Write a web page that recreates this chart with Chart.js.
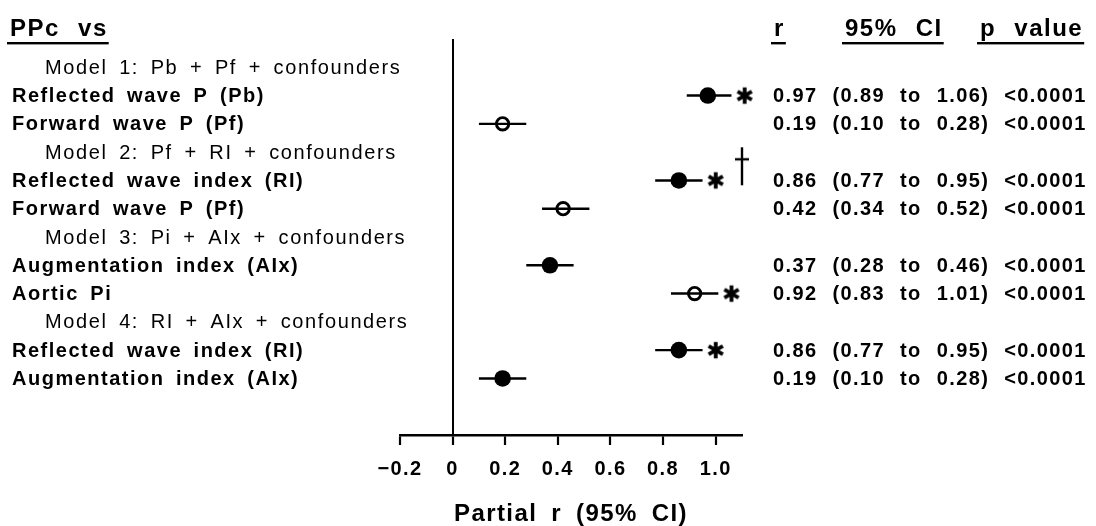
<!DOCTYPE html>
<html>
<head>
<meta charset="utf-8">
<script src="https://cdn.jsdelivr.net/npm/chart.js@4.4.1/dist/chart.umd.min.js"></script>
<style>
  html, body { margin: 0; padding: 0; background: #fff; }
  canvas { display: block; }
</style>
</head>
<body>
<canvas id="forest" width="1096" height="526"></canvas>
<script>
// ---- data ----
const headingText = 'PPc vs';
const columnHeaders = ['r', '95% CI', 'p value'];
const modelTitles = [
  'Model 1: Pb + Pf + confounders',
  'Model 2: Pf + RI + confounders',
  'Model 3: Pi + AIx + confounders',
  'Model 4: RI + AIx + confounders'
];
const modelRows = [0, 3, 6, 9];
const rowLabels = [
  'Reflected wave P (Pb)',
  'Forward wave P (Pf)',
  'Reflected wave index (RI)',
  'Forward wave P (Pf)',
  'Augmentation index (AIx)',
  'Aortic Pi',
  'Reflected wave index (RI)',
  'Augmentation index (AIx)'
];
const rowIndex = [1, 2, 4, 5, 7, 8, 10, 11];
const rValues = [0.97, 0.19, 0.86, 0.42, 0.37, 0.92, 0.86, 0.19];
const ciLow   = [0.89, 0.10, 0.77, 0.34, 0.28, 0.83, 0.77, 0.10];
const ciHigh  = [1.06, 0.28, 0.95, 0.52, 0.46, 1.01, 0.95, 0.28];
const pValues = ['<0.0001', '<0.0001', '<0.0001', '<0.0001', '<0.0001', '<0.0001', '<0.0001', '<0.0001'];
const filledMarker = [true, false, true, false, true, false, true, true];
const asteriskFlag = [true, false, true, false, false, true, true, false];
const daggerFlag   = [false, false, true, false, false, false, false, false];
const xTickValues = [-0.2, 0, 0.2, 0.4, 0.6, 0.8, 1.0];
const xTickLabels = ['\u22120.2', '0', '0.2', '0.4', '0.6', '0.8', '1.0'];
const xAxisTitle = 'Partial r (95% CI)';

// ---- styling ----
const FONT = '"Liberation Sans", Arial, Helvetica, sans-serif';
const INK = '#000';
const asteriskGap = 0.14;   // horizontal offset of the significance asterisk from r
const daggerGap = 0.24;     // horizontal offset of the dagger from r

// glyph images used as point styles
function makeAsterisk() {
  const c = document.createElement('canvas');
  c.width = 20; c.height = 20;
  const g = c.getContext('2d');
  g.strokeStyle = INK; g.lineWidth = 3.8; g.lineCap = 'butt';
  [90, 30, -30].forEach(deg => {
    const a = deg * Math.PI / 180, r = 8.2;
    g.beginPath();
    g.moveTo(10 - r * Math.cos(a), 10 - r * Math.sin(a));
    g.lineTo(10 + r * Math.cos(a), 10 + r * Math.sin(a));
    g.stroke();
  });
  return c;
}
function makeDagger() {
  const c = document.createElement('canvas');
  c.width = 16; c.height = 40;
  const g = c.getContext('2d');
  g.strokeStyle = INK; g.lineWidth = 2.4;
  g.beginPath(); g.moveTo(8, 1); g.lineTo(8, 39); g.stroke();
  g.beginPath(); g.moveTo(1, 13); g.lineTo(15, 13); g.stroke();
  return c;
}
const asteriskImg = makeAsterisk();
const daggerImg = makeDagger();

// ---- datasets ----
const whiskerSets = rValues.map((r, i) => ({
  type: 'scatter',
  showLine: true,
  data: [{ x: ciLow[i], y: rowIndex[i] }, { x: ciHigh[i], y: rowIndex[i] }],
  borderColor: INK,
  borderWidth: 2.4,
  pointRadius: 0,
  order: 2,
  clip: false
}));

const filledSet = {
  data: rValues.map((r, i) => filledMarker[i] ? { x: r, y: rowIndex[i] } : null).filter(Boolean),
  pointStyle: 'circle', pointRadius: 8.3,
  backgroundColor: INK, borderColor: INK, borderWidth: 0,
  order: 0, clip: false
};
const openSet = {
  data: rValues.map((r, i) => !filledMarker[i] ? { x: r, y: rowIndex[i] } : null).filter(Boolean),
  pointStyle: 'circle', pointRadius: 6.2,
  backgroundColor: 'rgba(0,0,0,0)', borderColor: INK, borderWidth: 2.9,
  order: 0, clip: false
};
const asteriskSet = {
  data: rValues.map((r, i) => asteriskFlag[i] ? { x: r + asteriskGap, y: rowIndex[i] } : null).filter(Boolean),
  pointStyle: asteriskImg, pointRadius: 10,
  order: 0, clip: false
};
const daggerSet = {
  data: rValues.map((r, i) => daggerFlag[i] ? { x: r + daggerGap, y: rowIndex[i] - 0.5 } : null).filter(Boolean),
  pointStyle: daggerImg, pointRadius: 10,
  order: 0, clip: false
};

// ---- text drawn alongside the plot ----
function setSpacing(ctx, letter, word) {
  if ('letterSpacing' in ctx) ctx.letterSpacing = letter + 'px';
  if ('wordSpacing' in ctx) ctx.wordSpacing = word + 'px';
}
function underlined(ctx, text, x, y, lineY) {
  ctx.fillText(text, x, y);
  const w = ctx.measureText(text).width;
  ctx.fillRect(x - 3, lineY, w + 4, 2.4);
}

const sideText = {
  id: 'sideText',
  beforeDraw(chart) {
    // spacing used by the axis tick labels and axis title
    setSpacing(chart.ctx, 1.4, 6);
  },
  afterDraw(chart) {
    const ctx = chart.ctx;
    const y = chart.scales.y;
    ctx.save();
    ctx.fillStyle = INK;
    ctx.textBaseline = 'alphabetic';
    ctx.textAlign = 'left';

    // column headings
    ctx.font = 'bold 24px ' + FONT;
    setSpacing(ctx, 1.5, 10);
    underlined(ctx, headingText, 10, 36, 42);
    underlined(ctx, columnHeaders[0], 774, 36, 42);
    underlined(ctx, columnHeaders[1], 845, 36, 42);
    underlined(ctx, columnHeaders[2], 980, 36, 42);

    ctx.textBaseline = 'middle';
    // model headings
    ctx.font = '20px ' + FONT;
    setSpacing(ctx, 1.6, 4.5);
    modelTitles.forEach((t, k) => ctx.fillText(t, 45, y.getPixelForValue(modelRows[k]) + 1));

    // variable names
    ctx.font = 'bold 20px ' + FONT;
    setSpacing(ctx, 1.5, 4.5);
    rowLabels.forEach((t, i) => ctx.fillText(t, 12, y.getPixelForValue(rowIndex[i]) + 1));

    // r, confidence interval and p value
    setSpacing(ctx, 1.4, 8);
    rValues.forEach((r, i) => {
      const line = r.toFixed(2) + ' (' + ciLow[i].toFixed(2) + ' to ' + ciHigh[i].toFixed(2) + ') ' + pValues[i];
      ctx.fillText(line, 773, y.getPixelForValue(rowIndex[i]) + 1);
    });
    ctx.restore();
  }
};

new Chart(document.getElementById('forest'), {
  type: 'scatter',
  data: { datasets: [filledSet, openSet, asteriskSet, daggerSet, ...whiskerSets] },
  options: {
    responsive: false,
    animation: false,
    events: [],
    layout: { padding: { left: 400, right: 354, top: 39, bottom: 0 } },
    plugins: { legend: { display: false }, tooltip: { enabled: false } },
    scales: {
      x: {
        type: 'linear',
        min: -0.2,
        max: 1.1,
        afterBuildTicks: axis => { axis.ticks = xTickValues.map(v => ({ value: v })); },
        ticks: {
          callback: (v, i) => xTickLabels[i],
          color: INK,
          font: { family: FONT, size: 20, weight: 'bold' },
          padding: 12,
          maxRotation: 0,
          autoSkip: false
        },
        grid: {
          drawOnChartArea: true,
          drawTicks: true,
          color: c => (c.tick && c.tick.value === 0) ? INK : 'rgba(0,0,0,0)',
          lineWidth: 2,
          tickColor: INK,
          tickWidth: 2.2,
          tickLength: 10
        },
        border: { display: true, color: INK, width: 2.4 },
        title: {
          display: true,
          text: xAxisTitle,
          color: INK,
          font: { family: FONT, size: 24, weight: 'bold', lineHeight: 1 },
          padding: { top: 9, bottom: 0 }
        }
      },
      y: { type: 'linear', min: -1, max: 13, reverse: true, display: false }
    }
  },
  plugins: [sideText]
});
</script>
</body>
</html>
